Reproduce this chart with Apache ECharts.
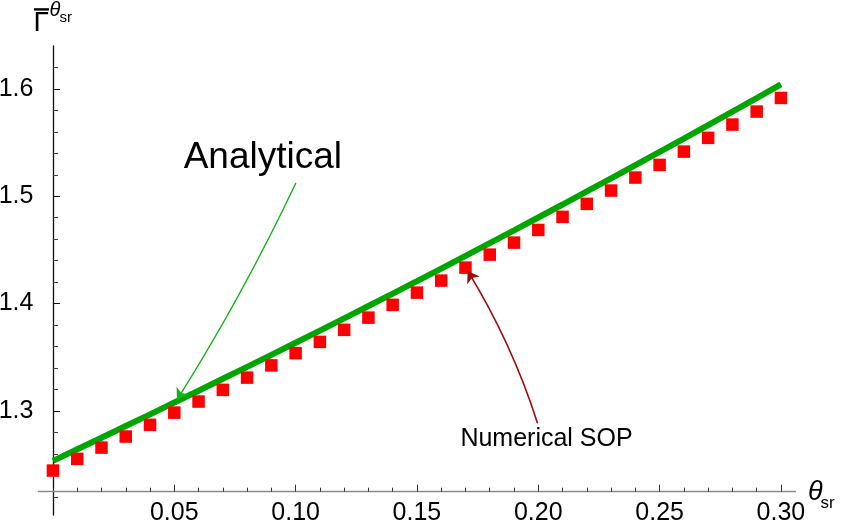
<!DOCTYPE html>
<html>
<head>
<meta charset="utf-8">
<script src="https://cdn.jsdelivr.net/npm/echarts@6/dist/echarts.min.js"></script>
<style>html,body{margin:0;padding:0;background:#fff}#c{width:842px;height:531px}</style>
</head>
<body>
<div id="c"></div>
<script>
// ---- data ----
const thetaSr = [0,0.01,0.02,0.03,0.04,0.05,0.06,0.07,0.08,0.09,0.10,0.11,0.12,0.13,0.14,0.15,0.16,0.17,0.18,0.19,0.20,0.21,0.22,0.23,0.24,0.25,0.26,0.27,0.28,0.29,0.30];
const numericalSOP = [1.2444,1.2553,1.2658,1.2761,1.2870,1.2984,1.3087,1.3196,1.3310,1.3424,1.3538,1.3643,1.3755,1.3869,1.3988,1.4102,1.4214,1.4335,1.4456,1.4568,1.4686,1.4808,1.4929,1.5053,1.5174,1.5292,1.5416,1.5544,1.5668,1.5789,1.5916];
const analytical = [1.2534,1.2642,1.2750,1.2859,1.2968,1.3078,1.3188,1.3299,1.3410,1.3522,1.3635,1.3748,1.3862,1.3977,1.4093,1.4209,1.4326,1.4444,1.4563,1.4682,1.4802,1.4923,1.5045,1.5167,1.5290,1.5414,1.5538,1.5663,1.5789,1.5915,1.6042];
const xMajorTicks = [0.05,0.10,0.15,0.20,0.25,0.30];
const xMinorTicks = [0.01,0.02,0.03,0.04,0.06,0.07,0.08,0.09,0.11,0.12,0.13,0.14,0.16,0.17,0.18,0.19,0.21,0.22,0.23,0.24,0.26,0.27,0.28,0.29];
const yMajorTicks = [1.3,1.4,1.5,1.6];
const yMinorTicks = [1.22,1.24,1.26,1.28,1.32,1.34,1.36,1.38,1.42,1.44,1.46,1.48,1.52,1.54,1.56,1.58,1.62];
// annotation anchors (data coordinates)
const analyticalLabel = {name:'Analytical', at:[0.0865,1.5357]};
const analyticalArrow = [[0.1001,1.5124],[0.0511,1.3102]];
const numericalLabel = {name:'Numerical SOP', at:[0.2034,1.2739]};
const numericalArrow = [[0.1997,1.2885],[0.1709,1.4304]];

const FONT = '"Liberation Sans", Arial, sans-serif';
const chart = echarts.init(document.getElementById('c'), null, {renderer:'canvas'});

const xBase = {type:'value', min:-0.006, max:0.306, position:'bottom', offset:-23.3,
  splitLine:{show:false}};
const yBase = {type:'value', min:1.203, max:1.64, position:'left', splitLine:{show:false}};

chart.setOption({
  animation:false,
  backgroundColor:'#fff',
  grid:{left:38.4, right:46.5, top:46, bottom:16, outerBoundsMode:'none', containLabel:false},
  xAxis:[
    Object.assign({}, xBase, {
      axisLine:{onZero:false, lineStyle:{color:'#8a8a8a', width:1.4}},
      axisTick:{inside:true, length:7, customValues:xMajorTicks, lineStyle:{color:'#333', width:1}},
      axisLabel:{customValues:xMajorTicks, margin:9, fontSize:25, color:'#000', fontFamily:FONT,
        formatter:v=>v.toFixed(2)}
    }),
    Object.assign({}, xBase, {
      axisLine:{show:false, onZero:false},
      axisTick:{inside:true, length:4, customValues:xMinorTicks, lineStyle:{color:'#333', width:1}},
      axisLabel:{show:false}
    })
  ],
  yAxis:[
    Object.assign({}, yBase, {
      axisLine:{onZero:true, lineStyle:{color:'#111', width:1.3}},
      axisTick:{inside:true, length:7, customValues:yMajorTicks, lineStyle:{color:'#111', width:1}},
      axisLabel:{customValues:yMajorTicks, margin:5, fontSize:25, color:'#000', fontFamily:FONT,
        formatter:v=>v.toFixed(1)}
    }),
    Object.assign({}, yBase, {
      axisLine:{show:false, onZero:true},
      axisTick:{inside:true, length:5, customValues:yMinorTicks, lineStyle:{color:'#444', width:1}},
      axisLabel:{show:false}
    })
  ],
  series:[
    {type:'line', name:'Analytical', data:thetaSr.map((x,i)=>[x,analytical[i]]),
      showSymbol:false, symbol:'none', lineStyle:{color:'#00a600', width:6, opacity:1}, z:2},
    {type:'scatter', name:'Numerical SOP', data:thetaSr.map((x,i)=>[x,numericalSOP[i]]),
      symbol:'rect', symbolSize:12.5, itemStyle:{color:'#ff0000', opacity:1}, z:3},
    {type:'lines', coordinateSystem:'cartesian2d', z:4,
      data:[{coords:analyticalArrow, lineStyle:{color:'#12b312', width:1.4, curveness:0.03, opacity:1}},
            {coords:numericalArrow, lineStyle:{color:'#a00a0a', width:1.6, curveness:-0.06, opacity:1}}],
      symbol:['none','arrow'], symbolSize:11},
    {type:'scatter', z:5, symbolSize:0, silent:true, itemStyle:{opacity:1},
      data:[{name:analyticalLabel.name, value:analyticalLabel.at, label:{fontSize:37}},
            {name:numericalLabel.name, value:numericalLabel.at, label:{fontSize:25}}],
      label:{show:true, position:'inside', formatter:p=>p.name, color:'#000', opacity:1, fontFamily:FONT}}
  ],
  graphic:[
    {type:'rect', shape:{x:34, y:8.2, width:15, height:2.4}, style:{fill:'#000'}},
    {type:'text', style:{text:'\u0393', x:33.5, y:23.5, font:'28px '+FONT, fill:'#000', textVerticalAlign:'middle'}},
    {type:'text', style:{text:'\u03b8', x:49.5, y:10.5, font:'italic 20px '+FONT, fill:'#000', textVerticalAlign:'middle'}},
    {type:'text', style:{text:'sr', x:59.5, y:17.5, font:'15px '+FONT, fill:'#000', textVerticalAlign:'middle'}},
    {type:'text', style:{text:'\u03b8', x:808, y:492, font:'italic 27px '+FONT, fill:'#000', textVerticalAlign:'middle'}},
    {type:'text', style:{text:'sr', x:820.5, y:503, font:'17px '+FONT, fill:'#000', textVerticalAlign:'middle'}}
  ]
});
</script>
</body>
</html>
